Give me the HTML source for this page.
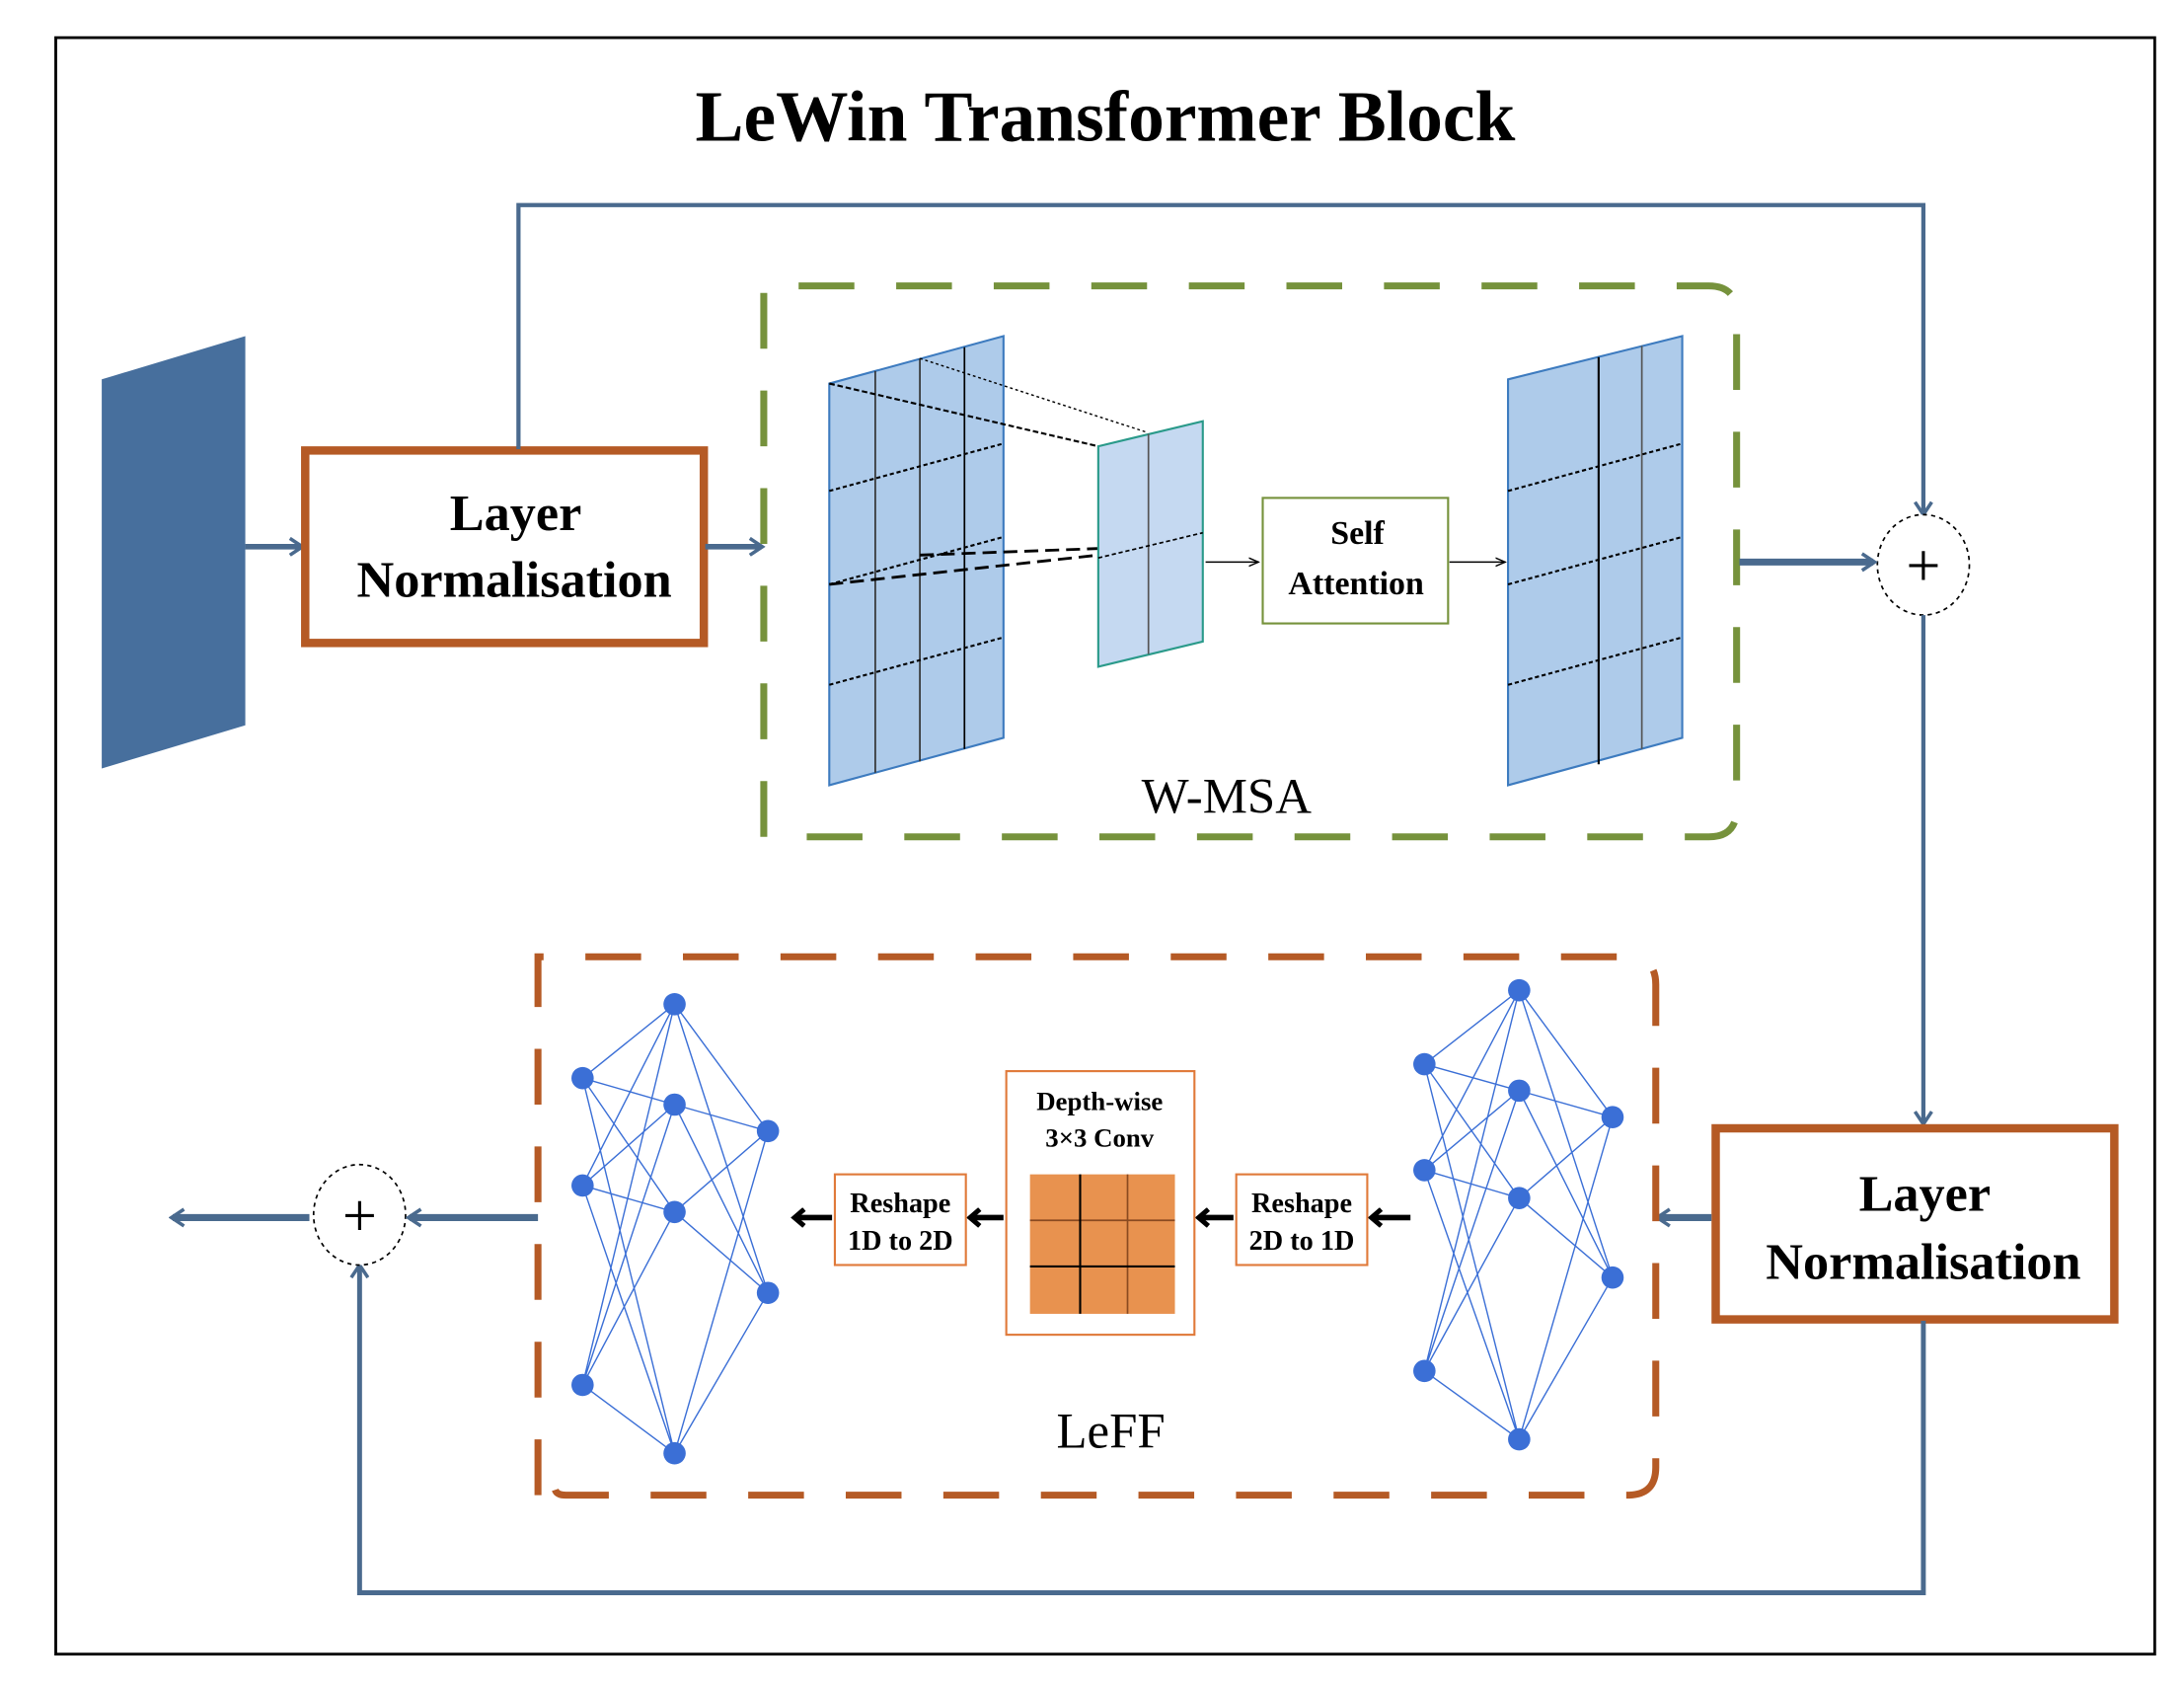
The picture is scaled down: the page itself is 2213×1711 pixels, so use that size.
<!DOCTYPE html>
<html><head><meta charset="utf-8"><style>html,body{margin:0;padding:0;background:#fff}svg{display:block}</style></head>
<body>
<svg width="2213" height="1711" viewBox="0 0 1567 1211" preserveAspectRatio="none" xmlns="http://www.w3.org/2000/svg" font-family="Liberation Serif, serif">
<defs>
<marker id="ab" markerWidth="12" markerHeight="14" refX="9" refY="7" orient="auto" markerUnits="userSpaceOnUse"><path d="M1,1 L10,7 L1,13" fill="none" stroke="#4a6a8e" stroke-width="2.5"/></marker>
<marker id="ak" markerWidth="12" markerHeight="14" refX="9" refY="7" orient="auto" markerUnits="userSpaceOnUse"><path d="M2,1 L9,7 L2,13" fill="none" stroke="#000" stroke-width="3.5"/></marker>
<marker id="as" markerWidth="8" markerHeight="8" refX="7" refY="4" orient="auto" markerUnits="userSpaceOnUse"><path d="M0,1 L7,4 L0,7" fill="none" stroke="#000" stroke-width="1"/></marker>
</defs>
<rect x="40" y="27" width="1506" height="1159" fill="#fff" stroke="#000" stroke-width="2"/>
<text x="793" y="101" font-size="52" font-weight="bold" text-anchor="middle">LeWin Transformer Block</text>

<polygon points="73,272 176,241 176,520 73,551" fill="#476f9d"/>
<line x1="176" y1="392" x2="216" y2="392" stroke="#4a6a8e" stroke-width="4" marker-end="url(#ab)"/>

<rect x="219" y="323" width="286" height="138" fill="#fff" stroke="#b55a25" stroke-width="6"/>
<text x="370" y="380" font-size="37" font-weight="bold" text-anchor="middle">Layer</text>
<text x="369" y="428" font-size="37" font-weight="bold" text-anchor="middle">Normalisation</text>
<line x1="506" y1="392" x2="546" y2="392" stroke="#4a6a8e" stroke-width="4" marker-end="url(#ab)"/>

<polyline points="372,322 372,147 1380,147 1380,368" fill="none" stroke="#4a6a8e" stroke-width="3" marker-end="url(#ab)"/>
<ellipse cx="1380" cy="405" rx="33" ry="36" fill="#fff" stroke="#000" stroke-width="1.2" stroke-dasharray="3,3"/>
<text x="1380" y="420" font-size="44" text-anchor="middle">+</text>

<path d="M548,600 L548,205 L1226,205 Q1246,205 1246,225 L1246,580 Q1246,600 1226,600 L568,600 Q558,600 556,596" fill="none" stroke="#76923c" stroke-width="5" stroke-dasharray="40,30"/>

<polygon points="595,275 720,241 720,529 595,563" fill="#aecbea" stroke="#3d7bbf" stroke-width="1.5"/>
<g stroke="#333" stroke-width="1.2">
<line x1="628" y1="266" x2="628" y2="554"/>
<line x1="660" y1="257" x2="660" y2="546"/>
<line x1="692" y1="249" x2="692" y2="537" stroke="#000"/>
</g>
<g stroke="#000" stroke-width="1.5" stroke-dasharray="3,2">
<line x1="595" y1="352" x2="720" y2="318"/>
<line x1="595" y1="419" x2="720" y2="385"/>
<line x1="595" y1="491" x2="720" y2="457"/>
<line x1="595" y1="275" x2="788" y2="320" stroke-dasharray="4,2"/>
<line x1="660" y1="257" x2="823" y2="310" stroke-width="1" stroke-dasharray="2,2"/>
<line x1="660" y1="398" x2="823" y2="392" stroke-dasharray="10,5" stroke-width="2"/>
<line x1="595" y1="419" x2="788" y2="398" stroke-dasharray="10,5" stroke-width="2"/>
</g>
<polygon points="788,320 863,302 863,460 788,478" fill="#c5d9f1" stroke="#2a9a8a" stroke-width="1.5"/>
<line x1="824" y1="311" x2="824" y2="469" stroke="#555" stroke-width="1.2"/>
<line x1="788" y1="400" x2="863" y2="382" stroke="#000" stroke-width="1.2" stroke-dasharray="3,2"/>
<line x1="865" y1="403" x2="903" y2="403" stroke="#000" stroke-width="1" marker-end="url(#as)"/>
<rect x="906" y="357" width="133" height="90" fill="#fff" stroke="#76923c" stroke-width="1.5"/>
<text x="974" y="390" font-size="24" font-weight="bold" text-anchor="middle">Self</text>
<text x="973" y="426" font-size="24" font-weight="bold" text-anchor="middle">Attention</text>
<line x1="1040" y1="403" x2="1080" y2="403" stroke="#000" stroke-width="1" marker-end="url(#as)"/>
<polygon points="1082,272 1207,241 1207,529 1082,563" fill="#aecbea" stroke="#3d7bbf" stroke-width="1.5"/>
<line x1="1147" y1="256" x2="1147" y2="548" stroke="#000" stroke-width="1.5"/>
<line x1="1178" y1="248" x2="1178" y2="537" stroke="#555" stroke-width="1.2"/>
<g stroke="#000" stroke-width="1.5" stroke-dasharray="3,2">
<line x1="1082" y1="352" x2="1207" y2="318"/>
<line x1="1082" y1="419" x2="1207" y2="385"/>
<line x1="1082" y1="491" x2="1207" y2="457"/>
</g>
<text x="880" y="583" font-size="36" text-anchor="middle">W-MSA</text>
<line x1="1248" y1="403" x2="1344" y2="403" stroke="#4a6a8e" stroke-width="5" marker-end="url(#ab)"/>

<line x1="1380" y1="441" x2="1380" y2="805" stroke="#4a6a8e" stroke-width="3" marker-end="url(#ab)"/>
<rect x="1231" y="809" width="286" height="137" fill="#fff" stroke="#b55a25" stroke-width="6"/>
<text x="1381" y="868" font-size="37" font-weight="bold" text-anchor="middle">Layer</text>
<text x="1380" y="917" font-size="37" font-weight="bold" text-anchor="middle">Normalisation</text>
<line x1="1228" y1="873" x2="1190" y2="873" stroke="#4a6a8e" stroke-width="5" marker-end="url(#ab)"/>

<path d="M386,1072 L386,686 L1168,686 Q1188,686 1188,706 L1188,1052 Q1188,1072 1168,1072 L406,1072 Q398,1072 398,1066" fill="none" stroke="#b55a25" stroke-width="5" stroke-dasharray="40,30"/>

<polyline points="1380,947 1380,1142 258,1142 258,908" fill="none" stroke="#4a6a8e" stroke-width="3.5" marker-end="url(#ab)"/>
<ellipse cx="258" cy="871" rx="33" ry="36" fill="#fff" stroke="#000" stroke-width="1.2" stroke-dasharray="3,3"/>
<text x="258" y="886" font-size="44" text-anchor="middle">+</text>
<line x1="386" y1="873" x2="294" y2="873" stroke="#4a6a8e" stroke-width="5" marker-end="url(#ab)"/>
<line x1="222" y1="873" x2="124" y2="873" stroke="#4a6a8e" stroke-width="5" marker-end="url(#ab)"/>

<g stroke="#3b6fd6" stroke-width="1" fill="none">
<path d="M418,773L484,720M418,773L484,792M418,773L484,869M418,773L484,1042M418,850L484,720M418,850L484,792M418,850L484,869M418,850L484,1042M418,993L484,720M418,993L484,792M418,993L484,869M418,993L484,1042M484,720L551,811M484,720L551,927M484,792L551,811M484,792L551,927M484,869L551,811M484,869L551,927M484,1042L551,811M484,1042L551,927"/>
<path d="M1022,763L1090,710M1022,763L1090,782M1022,763L1090,859M1022,763L1090,1032M1022,839L1090,710M1022,839L1090,782M1022,839L1090,859M1022,839L1090,1032M1022,983L1090,710M1022,983L1090,782M1022,983L1090,859M1022,983L1090,1032M1090,710L1157,801M1090,710L1157,916M1090,782L1157,801M1090,782L1157,916M1090,859L1157,801M1090,859L1157,916M1090,1032L1157,801M1090,1032L1157,916"/>
</g>
<g fill="#3b6fd6">
<circle cx="418" cy="773" r="8"/><circle cx="418" cy="850" r="8"/><circle cx="418" cy="993" r="8"/>
<circle cx="484" cy="720" r="8"/><circle cx="484" cy="792" r="8"/><circle cx="484" cy="869" r="8"/><circle cx="484" cy="1042" r="8"/>
<circle cx="551" cy="811" r="8"/><circle cx="551" cy="927" r="8"/>
<circle cx="1022" cy="763" r="8"/><circle cx="1022" cy="839" r="8"/><circle cx="1022" cy="983" r="8"/>
<circle cx="1090" cy="710" r="8"/><circle cx="1090" cy="782" r="8"/><circle cx="1090" cy="859" r="8"/><circle cx="1090" cy="1032" r="8"/>
<circle cx="1157" cy="801" r="8"/><circle cx="1157" cy="916" r="8"/>
</g>

<line x1="1012" y1="873" x2="984" y2="873" stroke="#000" stroke-width="4" marker-end="url(#ak)"/>
<rect x="887" y="842" width="94" height="65" fill="#fff" stroke="#e07a3a" stroke-width="1.5"/>
<text x="934" y="869" font-size="20" font-weight="bold" text-anchor="middle">Reshape</text>
<text x="934" y="896" font-size="20" font-weight="bold" text-anchor="middle">2D to 1D</text>
<line x1="885" y1="873" x2="860" y2="873" stroke="#000" stroke-width="4" marker-end="url(#ak)"/>
<rect x="722" y="768" width="135" height="189" fill="#fff" stroke="#e07a3a" stroke-width="1.5"/>
<text x="789" y="796" font-size="19" font-weight="bold" text-anchor="middle">Depth-wise</text>
<text x="789" y="822" font-size="19" font-weight="bold" text-anchor="middle">3×3 Conv</text>
<rect x="739" y="842" width="104" height="100" fill="#e8924f"/>
<g stroke="#8a4a20" stroke-width="1.2"><line x1="739" y1="875" x2="843" y2="875"/><line x1="809" y1="842" x2="809" y2="942"/></g>
<g stroke="#000" stroke-width="1.5"><line x1="739" y1="908" x2="843" y2="908"/><line x1="775" y1="842" x2="775" y2="942"/></g>
<line x1="720" y1="873" x2="696" y2="873" stroke="#000" stroke-width="4" marker-end="url(#ak)"/>
<rect x="599" y="842" width="94" height="65" fill="#fff" stroke="#e07a3a" stroke-width="1.5"/>
<text x="646" y="869" font-size="20" font-weight="bold" text-anchor="middle">Reshape</text>
<text x="646" y="896" font-size="20" font-weight="bold" text-anchor="middle">1D to 2D</text>
<line x1="597" y1="873" x2="570" y2="873" stroke="#000" stroke-width="4" marker-end="url(#ak)"/>
<text x="797" y="1038" font-size="36" text-anchor="middle">LeFF</text>
</svg>
</body></html>
